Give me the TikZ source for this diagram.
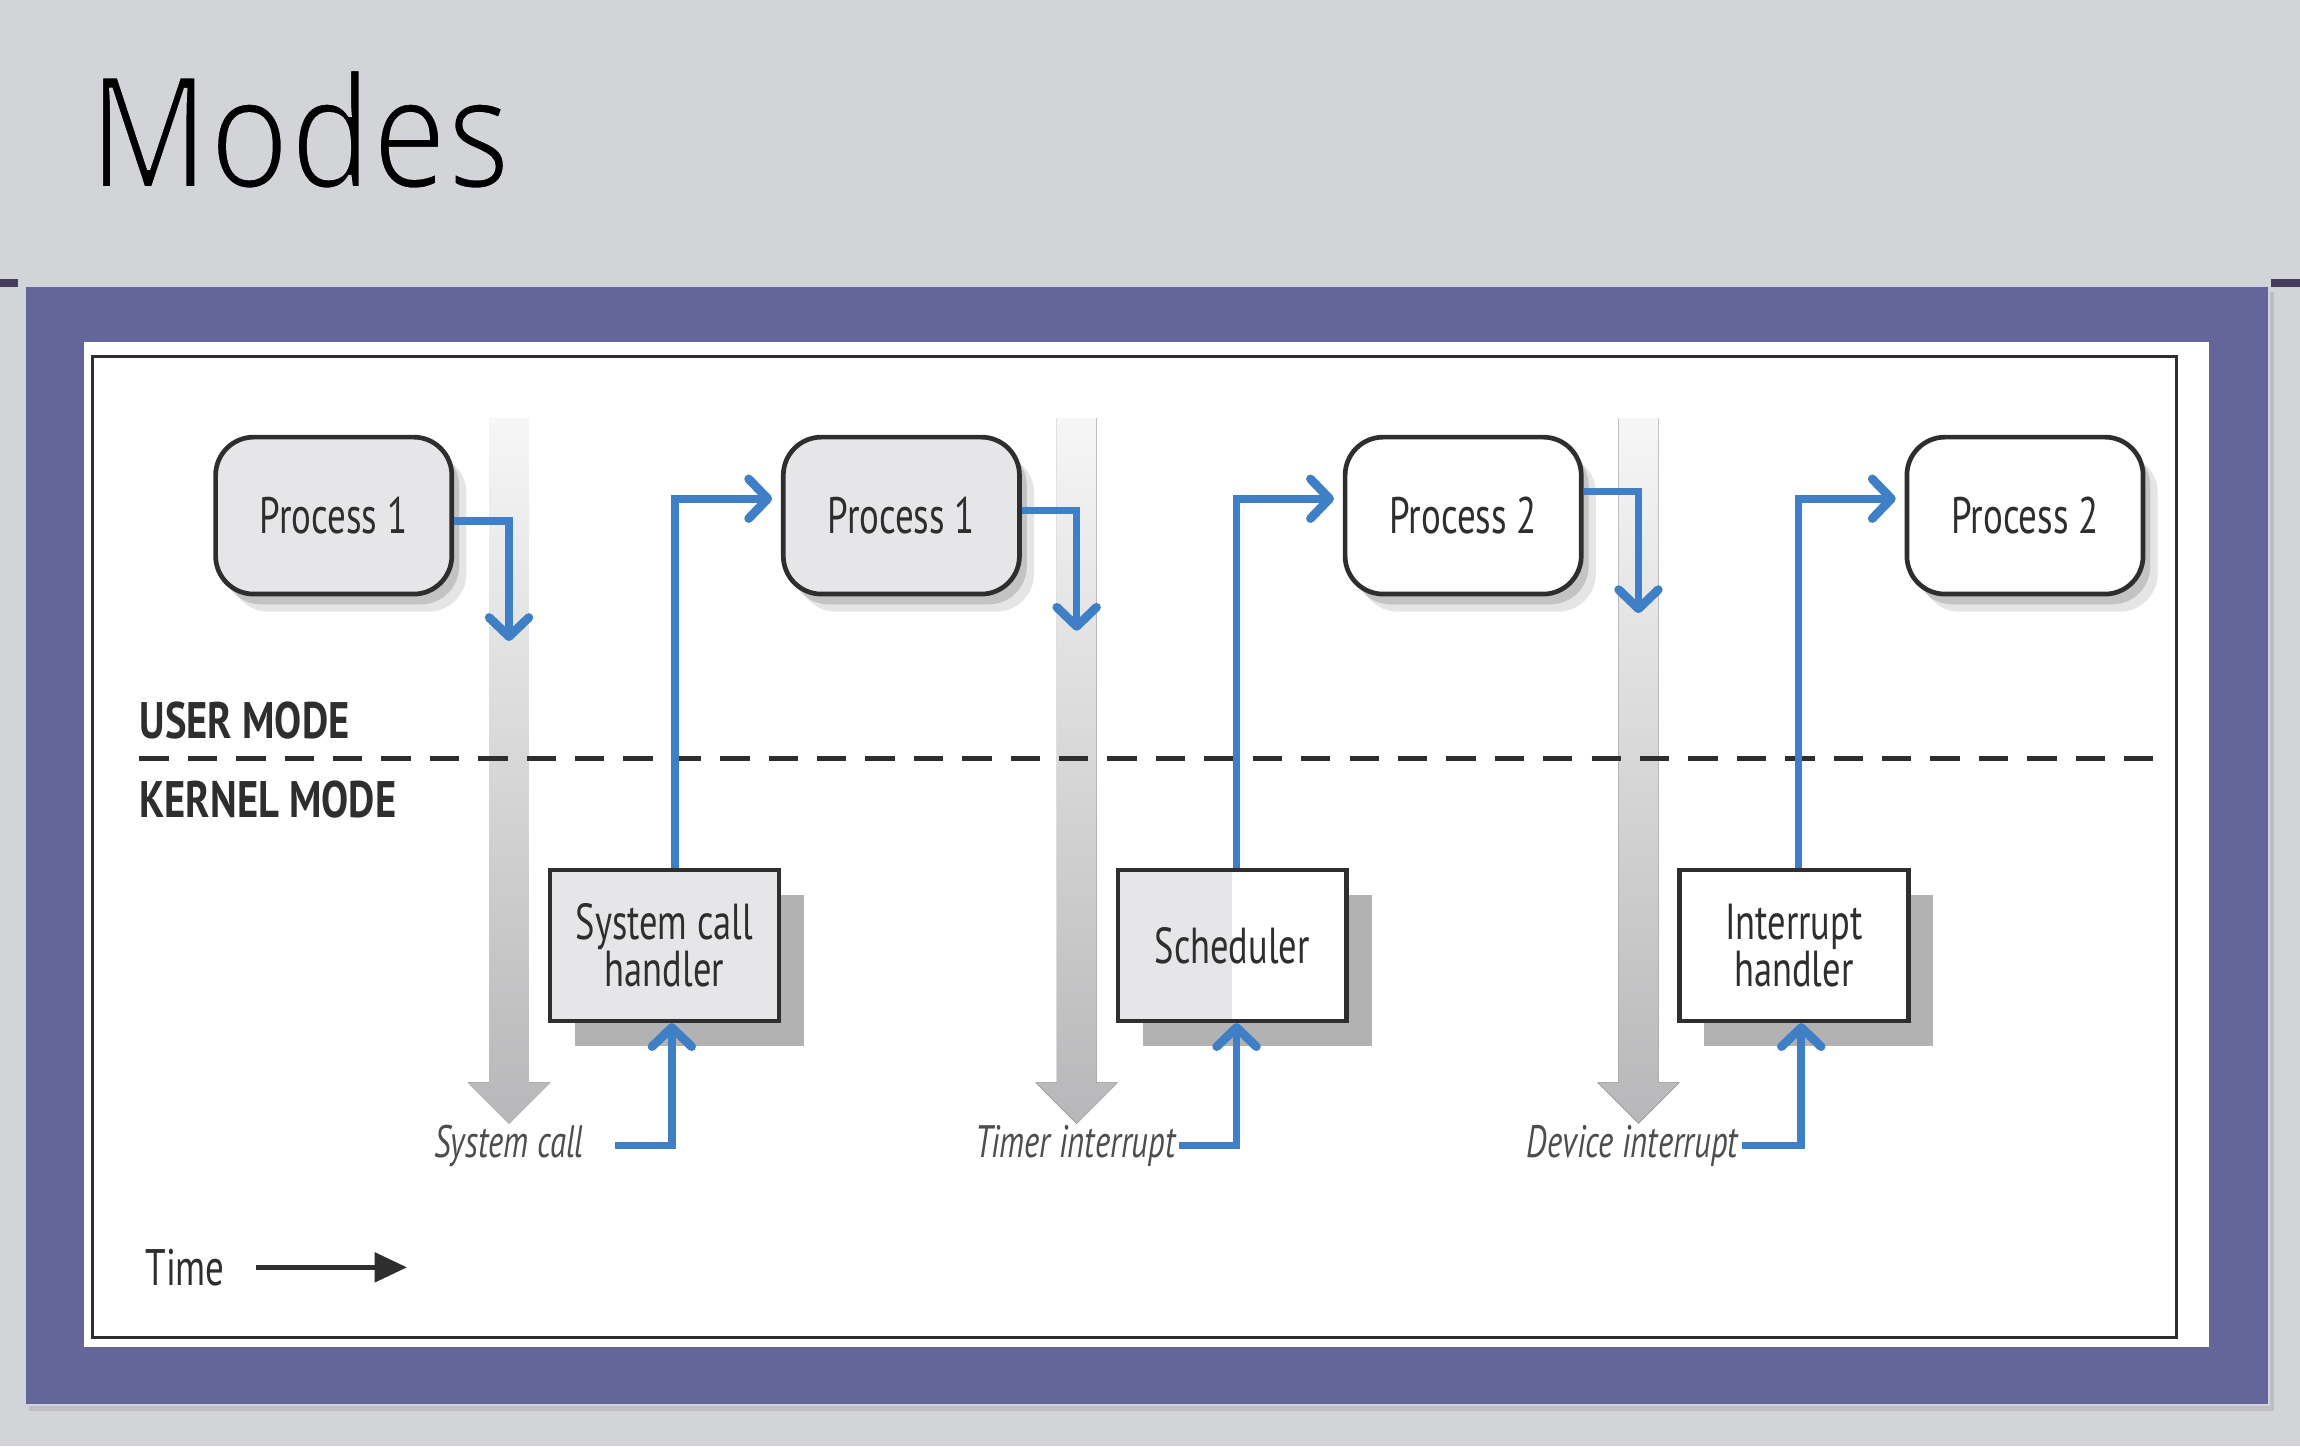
\documentclass[tikz,border=0pt]{standalone}
\usepackage{fontspec}
\setmainfont{PT Sans}[FakeStretch=0.72]
\newfontfamily\modefont{PT Sans}[FakeStretch=0.79]
\newfontfamily\titlefont{Open Sans}[FakeStretch=0.86]
\usepackage{xcolor}
\usetikzlibrary{arrows.meta, shadows, calc, positioning}
\definecolor{slidegray}{HTML}{D3D4D8}
\definecolor{framepurple}{HTML}{646699}
\definecolor{markpurple}{HTML}{463C5E}
\definecolor{flowblue}{HTML}{3F7FC6}
\definecolor{boxgray}{HTML}{E6E6E8}
\definecolor{inkgray}{HTML}{2E2E2E}
\definecolor{railtop}{HTML}{F6F6F6}
\definecolor{railbot}{HTML}{B7B7B9}
% thin the title strokes by outlining the glyphs in the slide colour
\newcommand\LightText[1]{\special{pdf:code q 2 Tr 2.2 w 0.827 0.831 0.847 RG}#1\special{pdf:code Q}}
\newcommand\DrawRail[2]{%
\fill[top color=railtop, bottom color=railbot] (#2-13.5,285) -- (#2+13.5,285) -- (#2+13.5,738) -- (#2+28,738) -- (#2,766) -- (#2-28,738) -- (#2-13.5,738) -- cycle;
\coordinate (#1) at (#2,285);
}
\tikzset{
  softshadow/.style={drop shadow={shadow xshift=5pt, shadow yshift=-7pt, opacity=.22, fill=black!70},
                     drop shadow={shadow xshift=10pt, shadow yshift=-12pt, opacity=.14, fill=black!70}},
  hardshadow/.style={drop shadow={shadow xshift=17pt, shadow yshift=-17pt, opacity=.55, fill=black!55}},
  proc/.style={draw=inkgray, line width=3.2pt, rounded corners=26pt, minimum width=161pt, minimum height=107pt,
               fill=boxgray, text=inkgray, font=\fontsize{35}{40}\selectfont, softshadow},
  kbox/.style={draw=inkgray, line width=3pt, minimum width=156pt, minimum height=103pt, align=center,
               fill=boxgray, text=inkgray, font=\fontsize{34.5}{32}\selectfont, hardshadow},
  modelbl/.style={anchor=west, inner sep=0pt, text=inkgray, font=\fontsize{35}{40}\modefont\bfseries},
  evlbl/.style={inner sep=0pt, text=inkgray!85, font=\fontsize{31}{36}\selectfont\itshape},
  flow/.style={draw=flowblue, line width=5.2pt, -{Straight Barb[length=13pt, width=27pt, line width=6pt, round]}},
}
\begin{document}
\begin{tikzpicture}[x=1pt, y=-1pt]
  \useasboundingbox (0,0) rectangle (1568,986);
  \fill[slidegray] (0,0) rectangle (1568,986);
  \node[anchor=base west, inner sep=0pt, font=\fontsize{106}{120}\titlefont] (title) at (60,128) {\LightText{Modes}};

  \draw[markpurple, line width=5pt] (0,193) -- (12,193);
  \draw[markpurple, line width=5pt] (1548,193) -- (1568,193);

  % frame and panel
  \fill[black!25] (20,199) rectangle (1550,962);
  \fill[framepurple, draw=white!70!framepurple, line width=1.5pt] (17,195) rectangle (1547,958);
  \fill[white] (57,233) rectangle (1506,918);
  \draw[inkgray, line width=2pt] (63,243) rectangle (1484,912);

  \DrawRail{rail1}{347}
  \DrawRail{rail2}{734}
  \DrawRail{rail3}{1117}

  \draw[inkgray, line width=3pt, dash pattern=on 20pt off 13pt] (95,517) -- (1468,517);
  \node[modelbl] (user) at (95,491) {USER MODE};
  \node[modelbl] (kernel) at (95,545) {KERNEL MODE};

  \node[proc] (p1) at (227.5,351.5) {Process 1};
  \node[proc] (p1b) at (614.5,351.5) {Process 1};
  \node[proc, fill=white] (p2) at (997.5,351.5) {Process 2};
  \node[proc, fill=white] (p2b) at (1380.5,351.5) {Process 2};

  \node[kbox] (sch) at (453,644.5) {System call\\handler};
  \node[kbox, fill=white, path picture={\fill[boxgray] (path picture bounding box.south west) rectangle (path picture bounding box.north);}] (sched) at (840,644.5) {Scheduler};
  \node[kbox, fill=white] (ih) at (1223,644.5) {Interrupt\\handler};

  \node[evlbl] (sysev) at (347,781) {System call};
  \node[evlbl] (timev) at (733,781) {Timer interrupt};
  \node[evlbl] (devev) at (1113,781) {Device interrupt};

  % into the kernel
  \draw[flow] ([yshift=-3.5pt]p1.east) -| ([yshift=-152pt]rail1);
  \draw[flow] ([yshift=3.5pt]p1b.east) -| ([yshift=-145pt]rail2);
  \draw[flow] ([yshift=16.5pt]p2.east) -| ([yshift=-133pt]rail3);

  \draw[flow] ([xshift=21pt]sysev.east) -| ([xshift=5pt]sch.south);
  \draw[flow] ([xshift=2pt]timev.east) -| ([xshift=3pt]sched.south);
  \draw[flow] ([xshift=2pt]devev.east) -| ([xshift=5pt]ih.south);

  % back to user mode
  \draw[flow, shorten >=6pt] ([xshift=7pt]sch.north) |- ([yshift=11.5pt]p1b.west);
  \draw[flow, shorten >=6pt] ([xshift=3pt]sched.north) |- ([yshift=11.5pt]p2.west);
  \draw[flow, shorten >=6pt] ([xshift=3pt]ih.north) |- ([yshift=11.5pt]p2b.west);

  \node[anchor=west, inner sep=0pt, text=inkgray, font=\fontsize{35}{40}\selectfont] (time) at (99,864) {Time};
  \draw[inkgray, line width=3pt, -{Triangle[length=22pt, width=20pt]}] ([xshift=21pt]time.east) -- ([xshift=124pt]time.east);
\end{tikzpicture}
\end{document}
